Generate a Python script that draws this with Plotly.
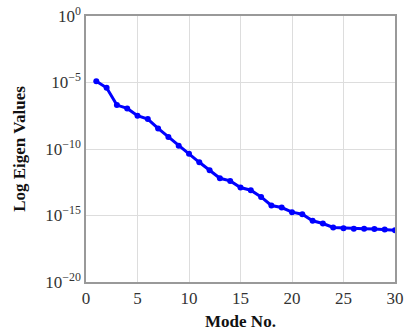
import plotly.graph_objects as go

# Mode numbers and log10 of the corresponding eigenvalues
modes = list(range(1, 31))
log_eig = [-4.9, -5.4, -6.7, -6.95, -7.5, -7.75, -8.45, -9.1, -9.75, -10.35,
           -11.0, -11.6, -12.2, -12.4, -12.9, -13.1, -13.6, -14.25, -14.4, -14.75,
           -14.9, -15.4, -15.6, -15.9, -15.95, -16.0, -16.0, -16.02, -16.05, -16.1]
eig_values = [10 ** e for e in log_eig]

y_tick_vals = [1e0, 1e-5, 1e-10, 1e-15, 1e-20]
y_tick_text = ["10<sup>0</sup>", "10<sup>\u22125</sup>", "10<sup>\u221210</sup>",
               "10<sup>\u221215</sup>", "10<sup>\u221220</sup>"]
x_tick_vals = [0, 5, 10, 15, 20, 25, 30]

serif = "Liberation Serif"

fig = go.Figure(go.Scatter(
    x=modes, y=eig_values, mode="lines+markers",
    line=dict(color="#0000ff", width=3),
    marker=dict(color="#0000ff", size=6),
))

fig.update_layout(
    width=406, height=331,
    margin=dict(l=86, r=11, t=16, b=49),
    paper_bgcolor="white", plot_bgcolor="white",
    showlegend=False,
    font=dict(family=serif, size=17, color="#333333"),
)
fig.update_xaxes(
    range=[0, 30], tickvals=x_tick_vals, automargin=False,
    tickfont=dict(family=serif, size=17, color="#333333"),
    showgrid=True, gridcolor="#dddddd", gridwidth=1,
    showline=True, linecolor="#999999", linewidth=1.5, mirror=True,
    ticks="", zeroline=False,
    title=dict(text="<b>Mode No.</b>", font=dict(family=serif, size=17, color="#111111")),
)
fig.update_yaxes(
    type="log", range=[-20, 0], tickvals=y_tick_vals, ticktext=y_tick_text,
    automargin=False, tickfont=dict(family=serif, size=17, color="#333333"),
    showgrid=True, gridcolor="#dddddd", gridwidth=1,
    showline=True, linecolor="#999999", linewidth=1.5, mirror=True,
    ticks="", zeroline=False,
    title=dict(text="<b>Log Eigen Values</b>", font=dict(family=serif, size=17, color="#111111")),
)

fig.write_html("out.html")
